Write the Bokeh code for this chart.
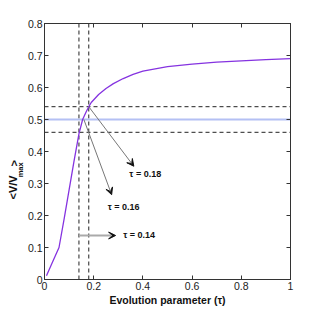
from bokeh.plotting import figure
from bokeh.layouts import row
from bokeh.models import LinearAxis, Arrow, VeeHead, FixedTicker, Range1d
from bokeh.core.properties import value
from bokeh.embed import file_html
from bokeh.resources import INLINE
import math

# curve data
tau = [0.008, 0.03, 0.059, 0.08, 0.10, 0.12, 0.14, 0.155, 0.17, 0.18, 0.19, 0.22, 0.25,
       0.28, 0.32, 0.36, 0.40, 0.50, 0.60, 0.70, 0.80, 0.90, 1.00]
v_ratio = [0.012, 0.05, 0.10, 0.19, 0.28, 0.37, 0.455, 0.50, 0.525, 0.54, 0.553, 0.578,
           0.597, 0.612, 0.628, 0.641, 0.651, 0.665, 0.673, 0.679, 0.683, 0.687, 0.69]

ref_level = 0.5
h_dash_levels = [0.54, 0.46]
v_dash_taus = [0.14, 0.18]

# annotations: arrow start, end, text position
arrow_x0 = [0.18, 0.16, 0.14]
arrow_y0 = [0.54, 0.50, 0.1375]
arrow_x1 = [0.363, 0.273, 0.289]
arrow_y1 = [0.354, 0.265, 0.1375]
label_x = [0.345, 0.257, 0.32]
label_y = [0.33, 0.226, 0.14]
label_txt = ["τ = 0.18", "τ = 0.16", "τ = 0.14"]

x_ticks = [0, 0.2, 0.4, 0.6, 0.8, 1.0]
y_ticks = [0, 0.1, 0.2, 0.3, 0.4, 0.5, 0.6, 0.7, 0.8]

y_label_main = "<V/V"
y_label_sub = "max"
y_label_end = ">"

FONT = "Liberation Sans"
H = 314
LW = 24

p = figure(width=17 + 249 + 23, height=H, output_backend="svg",
           toolbar_location=None, x_range=Range1d(0, 1), y_range=Range1d(0, 0.8),
           min_border_left=17, min_border_top=23, min_border_right=23, min_border_bottom=35)
p.background_fill_color = "white"
p.border_fill_color = "white"
p.outline_line_color = "#333333"
p.outline_line_width = 1
p.grid.visible = False

def style_axis(ax, labels=True):
    ax.major_tick_in = 4
    ax.major_tick_out = 0
    ax.minor_tick_line_color = None
    ax.axis_line_color = "#333333"
    ax.major_tick_line_color = "#333333"
    ax.major_label_text_font = FONT
    if labels:
        ax.major_label_text_font_size = "10.5px"
        ax.major_label_text_color = "#222222"
    else:
        ax.major_label_text_font_size = "1px"
        ax.major_label_text_color = None
    ax.major_label_standoff = 3

p.xaxis.ticker = FixedTicker(ticks=x_ticks)
p.yaxis.ticker = FixedTicker(ticks=y_ticks)
p.xaxis.major_label_overrides = {0: "0", 1: "1"}
p.yaxis.major_label_overrides = {0: "0"}
style_axis(p.xaxis[0])
style_axis(p.yaxis[0])
p.yaxis.major_label_standoff = 2
p.xaxis.major_label_standoff = 2
p.xaxis.axis_label = "Evolution parameter (τ)"
p.xaxis.axis_label_text_font = FONT
p.xaxis.axis_label_text_font_size = "10.5px"
p.xaxis.axis_label_text_font_style = "bold"
p.xaxis.axis_label_standoff = 1
p.xaxis.axis_label_text_color = "#111111"

top = LinearAxis(ticker=FixedTicker(ticks=x_ticks))
style_axis(top, labels=False)
p.add_layout(top, "above")
right = LinearAxis(ticker=FixedTicker(ticks=y_ticks))
style_axis(right, labels=False)
p.add_layout(right, "right")

# dashed lines
p.segment(x0=v_dash_taus, y0=[0, 0], x1=v_dash_taus, y1=[0.8, 0.8],
          line_color="#222222", line_width=1, line_dash="4 3")
p.segment(x0=[0, 0], y0=h_dash_levels, x1=[1, 1], y1=h_dash_levels,
          line_color="#222222", line_width=1, line_dash="4 3")
# reference level
p.segment(x0=[0], y0=[ref_level], x1=[1], y1=[ref_level],
          line_color="#b4c0f4", line_width=2)

# curve
p.line(tau, v_ratio, line_color="#8533e0", line_width=1.3)

# arrows
arrow_colors = ["#777777", "#777777", "#aaaaaa"]
arrow_widths = [1, 1, 2]
for i in range(3):
    p.add_layout(Arrow(end=VeeHead(size=7, fill_color="#111111", line_color="#111111"),
                       x_start=arrow_x0[i], y_start=arrow_y0[i],
                       x_end=arrow_x1[i], y_end=arrow_y1[i],
                       line_color=arrow_colors[i], line_width=arrow_widths[i]))

p.text(x=label_x, y=label_y, text=label_txt, text_font=value(FONT),
       text_font_size="9px", text_font_style="bold", text_color="#111111",
       text_align="left", text_baseline="middle")

# left strip holding the y-axis label (pixel coordinates)
lab = figure(width=LW, height=H, output_backend="svg", toolbar_location=None,
             x_range=Range1d(0, LW), y_range=Range1d(0, H),
             x_axis_type=None, y_axis_type=None,
             min_border=0, min_border_left=0, min_border_right=0,
             min_border_top=0, min_border_bottom=0)
lab.outline_line_color = None
lab.grid.visible = False
lab.background_fill_color = "white"
lab.border_fill_color = "white"
lab.text(x=[12.7], y=[113], text=[y_label_main], angle=math.pi / 2,
         text_font=value(FONT), text_font_size="11px", text_font_style="bold",
         text_color="#111111", text_align="center", text_baseline="middle")
lab.text(x=[20.0], y=[134.5], text=[y_label_sub], angle=math.pi / 2,
         text_font=value(FONT), text_font_size="7.5px", text_font_style="bold",
         text_color="#111111", text_align="center", text_baseline="middle")
lab.text(x=[13.0], y=[142.5], text=[y_label_end], angle=math.pi / 2,
         text_font=value(FONT), text_font_size="11px", text_font_style="bold",
         text_color="#111111", text_align="center", text_baseline="middle")

layout = row(lab, p)
open("out.html", "w").write(file_html(layout, INLINE))
